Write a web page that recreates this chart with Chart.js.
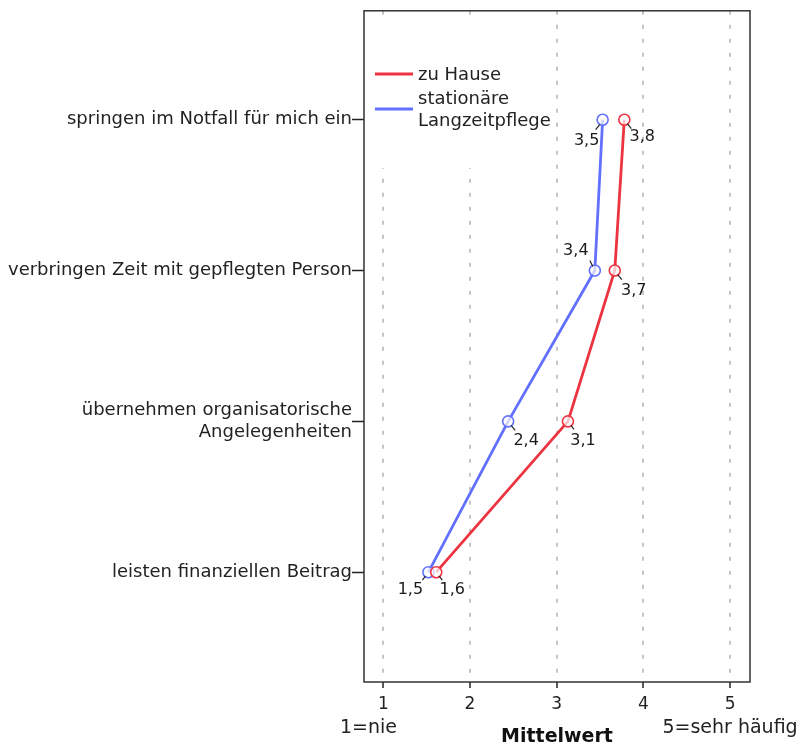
<!DOCTYPE html>
<html><head><meta charset="utf-8">
<script src="https://cdn.jsdelivr.net/npm/chart.js@4/dist/chart.umd.min.js"></script>
<style>html,body{margin:0;padding:0;background:#fff}#wrap{width:803px;height:747px}</style>
</head><body><div id="wrap"><canvas id="c" width="803" height="747"></canvas></div>
<script>
// ---- data ----
const categories = [
  "springen im Notfall für mich ein",
  "verbringen Zeit mit gepflegten Person",
  ["übernehmen organisatorische", "Angelegenheiten"],
  "leisten finanziellen Beitrag"
];
const legendNames = [["zu Hause"], ["stationäre", "Langzeitpflege"]];
const zuHause = [3.78, 3.67, 3.13, 1.61];
const stationaer = [3.53, 3.44, 2.44, 1.52];
const xTicks = [1, 2, 3, 4, 5];
const xAxisTitle = "Mittelwert";
const xLowLabel = "1=nie";
const xHighLabel = "5=sehr häufig";

// ---- styles ----
const RED = '#ec3340';
const BLUE = '#6270ff';
const FONT = 'DejaVu Sans';
Chart.defaults.font.family = FONT;
Chart.defaults.color = '#222';

// label offsets (styling only): [textDx, textDy, l1x, l1y, l2x, l2y]
const labelOffsets = [
  [ [18,17,3,4,7,9], [19,20,3,4,7,9], [15,19,3,4,6,8], [16,18,3,4,6,8] ],
  [ [-16,21,-3,5,-7,10], [-19,-20,-2,-4,-5,-10], [18,19,3,4,7,9], [-18,18,-3,4,-6,8] ]
];

const framePlugin = {
  id: 'frame',
  beforeDatasetsDraw(chart) {
    const {ctx, chartArea: a} = chart;
    ctx.save();
    ctx.fillStyle = '#fff';
    ctx.fillRect(a.left + 1, 22, 552 - a.left, 146);
    ctx.restore();
  },
  afterDatasetsDraw(chart) {
    const {ctx, chartArea: a} = chart;
    ctx.save();
    ctx.strokeStyle = '#333';
    ctx.lineWidth = 1.5;
    ctx.strokeRect(a.left, a.top, a.right - a.left, a.bottom - a.top);

    // legend
    const colors = [RED, BLUE];
    const lineY = [74, 109];
    const textY = [[75], [99, 121]];
    ctx.font = '18px ' + FONT;
    ctx.textBaseline = 'middle';
    ctx.textAlign = 'left';
    ctx.fillStyle = '#222';
    legendNames.forEach((lines, i) => {
      ctx.strokeStyle = colors[i];
      ctx.lineWidth = 3;
      ctx.beginPath();
      ctx.moveTo(375, lineY[i]);
      ctx.lineTo(413, lineY[i]);
      ctx.stroke();
      lines.forEach((t, j) => ctx.fillText(t, 418, textY[i][j]));
    });

    // value labels
    ctx.font = '16px ' + FONT;
    ctx.textAlign = 'center';
    ctx.textBaseline = 'middle';
    chart.data.datasets.forEach((ds, di) => {
      const meta = chart.getDatasetMeta(di);
      meta.data.forEach((pt, i) => {
        const o = labelOffsets[di][i];
        ctx.strokeStyle = '#222';
        ctx.lineWidth = 1.2;
        ctx.beginPath();
        ctx.moveTo(pt.x + o[2], pt.y + o[3]);
        ctx.lineTo(pt.x + o[4], pt.y + o[5]);
        ctx.stroke();
        const v = ds.data[i].x;
        ctx.fillStyle = '#1a1a1a';
        ctx.fillText(v.toFixed(1).replace('.', ','), pt.x + o[0], pt.y + o[1]);
      });
    });

    // x-axis end labels
    const xs = chart.scales.x;
    ctx.font = '19px ' + FONT;
    ctx.textAlign = 'left';
    ctx.fillStyle = '#222';
    ctx.fillText(xLowLabel, 340, 728);
    ctx.textAlign = 'center';
    ctx.fillText(xHighLabel, xs.getPixelForValue(5), 728);
    ctx.restore();
  }
};

new Chart(document.getElementById('c'), {
  type: 'line',
  data: {
    datasets: [
      {
        label: legendNames[0].join(' '),
        data: zuHause.map((v, i) => ({x: v, y: i})),
        borderColor: RED, borderWidth: 2.8,
        pointRadius: 5.5, pointBorderWidth: 1.6,
        pointBorderColor: RED, pointBackgroundColor: 'rgba(255,255,255,0.7)',
        tension: 0
      },
      {
        label: legendNames[1].join(' '),
        data: stationaer.map((v, i) => ({x: v, y: i})),
        borderColor: BLUE, borderWidth: 2.8,
        pointRadius: 5.5, pointBorderWidth: 1.6,
        pointBorderColor: BLUE, pointBackgroundColor: 'rgba(255,255,255,0.7)',
        tension: 0
      }
    ]
  },
  options: {
    responsive: false,
    animation: false,
    layout: {padding: {top: 10, right: 53, left: 0, bottom: 0}},
    plugins: {legend: {display: false}, tooltip: {enabled: false}},
    scales: {
      x: {
        type: 'linear', min: 0.777, max: 5.23,
        afterBuildTicks: s => { s.ticks = xTicks.map(v => ({value: v})); },
        afterFit: s => { s.height = 65; },
        grid: {color: '#c4c4c4', lineWidth: 2, tickColor: '#222', tickLength: 6, tickWidth: 1.5, tickBorderDash: []},
        border: {display: false, dash: [4, 10]},
        ticks: {font: {size: 17}, padding: 6, color: '#222'},
        title: {display: true, text: xAxisTitle, font: {size: 19, weight: 'bold', lineHeight: 1}, padding: {top: 0, bottom: 0}, color: '#111'}
      },
      y: {
        type: 'linear', min: -0.722, max: 3.728, reverse: true,
        afterBuildTicks: s => { s.ticks = categories.map((c, i) => ({value: i})); },
        afterFit: s => { s.width = 364; },
        grid: {drawOnChartArea: false, tickColor: '#222', tickLength: 12, tickWidth: 1.5},
        border: {display: false},
        ticks: {font: {size: 18}, padding: 0, color: '#222', callback: v => categories[v]}
      }
    }
  },
  plugins: [framePlugin]
});
</script>
</body></html>
